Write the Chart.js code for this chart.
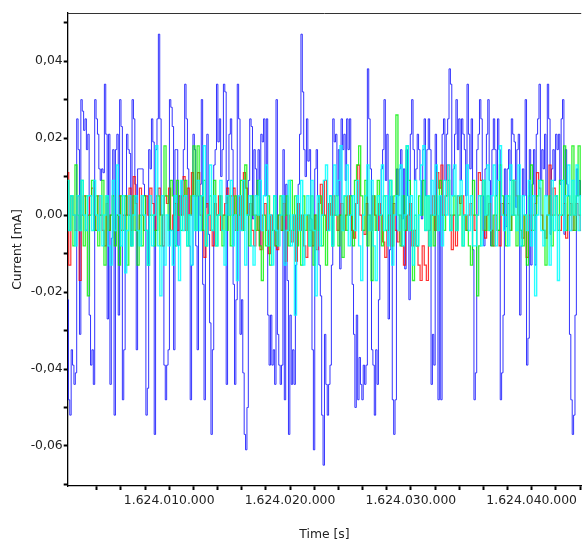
<!DOCTYPE html>
<html>
<head>
<meta charset="utf-8">
<script src="https://cdn.jsdelivr.net/npm/chart.js@4.4.1/dist/chart.umd.min.js"></script>
<style>
  html, body { margin: 0; padding: 0; background: #fff; overflow: hidden; }
  #wrap { width: 583px; height: 540px; overflow: hidden; }
</style>
</head>
<body>
<div id="wrap"><canvas id="chart" width="583" height="546"></canvas></div>
<script>
// time window of the recording (axis units as shown on the x axis)
const timeStart = 1624001600
const timeEnd = 1624044100

// channel currents [mA] left to right
const blueCurrent = [
  -0.022,-0.048,-0.052,-0.035,-0.039,-0.044,-0.041,0.025,0.017,-0.031,0.030,0.027,0.022,0.025,0.017,0.021,-0.026,-0.039,-0.035,-0.044,
  0.030,0.025,0.021,0.012,0.009,0.012,0.011,0.034,0.021,-0.027,0.021,-0.044,-0.006,0.017,-0.052,0.017,0.021,-0.026,0.030,0.023,
  -0.048,-0.035,0,0.021,0.017,0.016,-0.008,0.030,0.025,0.008,-0.035,0.012,0.012,0.012,0.012,0.008,0.005,-0.052,-0.045,0.017,
  0.012,0.025,0.019,-0.057,0.017,0.025,0.047,0.025,0,-0.008,-0.039,-0.048,-0.039,-0.035,0.030,0.028,0.023,-0.035,0.017,0.017,
  -0.008,0.005,0,0.009,0.017,0.034,0.025,0.012,-0.008,-0.048,-0.013,0.021,0.017,-0.008,-0.035,0.005,
  0.008,0.030,-0.018,-0.048,0.002,0.021,-0.005,-0.028,-0.057,-0.035,0.013,0.017,0.034,0.019,0.025,0.010,0.017,0.034,0.032,-0.044,
  0.009,0.021,0.025,0.017,-0.018,-0.044,-0.022,0.034,0.025,-0.031,-0.022,-0.041,-0.057,-0.061,-0.050,0.009,0.025,0.023,-0.001,0.017,
  0.012,0.005,0.017,-0.008,0.021,0.019,0.025,0.005,0.025,-0.026,-0.039,-0.026,-0.039,-0.035,-0.044,0.030,-0.031,-0.039,-0.044,-0.039,
  0.017,-0.048,0.008,-0.017,-0.057,-0.026,-0.044,-0.035,-0.044,-0.013,-0.001,0.008,0.021,0.047,0.032,0.017,0.010,0.025,0.014,0.017,
  -0.001,-0.035,-0.061,0.012,0.017,0.005,-0.013,-0.021,-0.052,-0.065,-0.031,-0.044,
  -0.052,-0.044,-0.039,-0.013,0.025,0.019,0.021,0.005,0.017,-0.014,0.025,0.017,0.021,0.009,0.025,0.017,0.025,0.005,-0.018,-0.031,
  -0.050,-0.026,-0.048,-0.037,-0.044,-0.048,-0.039,-0.044,-0.039,0.038,0.025,0.012,-0.035,-0.039,-0.052,-0.035,-0.044,-0.022,0,0.012,
  0.017,0.030,0.009,0.021,-0.027,-0.009,0.005,-0.048,-0.057,-0.048,0.012,0.005,0.012,0.017,-0.001,0.012,-0.014,0.017,0.005,-0.022,
  0.021,0.030,0.017,0.009,0.012,0.021,0.017,0.009,-0.001,0.017,0.025,0.005,0.017,0.025,0.017,-0.044,-0.031,-0.039,0.021,0,
  -0.048,0.005,-0.048,0.021,0.025,0.009,0.021,0.025,0.038,0.034,0.005,0.012,
  0.021,0.030,0.017,0.025,0.009,0.025,0.021,0.017,0.005,0.034,0.021,0.012,0.025,-0.009,-0.048,-0.041,0.017,0.021,0.030,0.025,
  0.005,-0.008,0.012,0.021,0.030,0.009,-0.008,0.017,0.025,0.017,0.005,0.025,0.017,-0.048,-0.041,-0.026,0.012,-0.003,0.012,0.017,
  0.009,0.025,0.021,0.019,0.002,0.017,0.021,-0.026,-0.008,0.012,0.005,0.030,-0.039,-0.032,0.017,-0.013,0.008,0.017,-0.013,0.021,
  0.025,0.034,0.009,0.017,0.012,0.021,0.005,0.034,0.025,-0.005,0.012,0.017,0.009,0.021,0.017,0.021,0.008,0.025,0.030,-0.005,
  0.017,0.008,0.005,-0.031,-0.048,-0.057,-0.052,-0.026,0.012,0.005,0.009,0.005
]
const redCurrent = [
  0.011,-0.013,0.005,0,-0.004,0.005,-0.017,0,0.005,-0.004,0,0.005,0.007,0,-0.004,0.005,0,-0.004,-0.008,0.003,
  -0.004,0,0.005,-0.004,0,0.005,-0.004,0,0.005,0,0.007,-0.004,0.010,0.003,-0.004,0.007,0,-0.004,0.005,0,
  0.007,0.003,-0.004,0.005,0.007,0,-0.008,0.005,0.003,0.007,-0.004,0,0.003,-0.004,0.005,0,0.010,-0.004,0.007,0,0.011,0.005,
  0.005,0.011,0,-0.004,-0.011,0.003,0,-0.004,-0.008,0.003,0,0.005,-0.004,0,0.003,0.007,0,0.005,0.007,-0.004,
  0,0.005,-0.004,0.011,0.007,0,0.003,-0.004,-0.008,0,-0.004,-0.009,0,0.003,-0.004,-0.010,0,-0.004,-0.008,-0.009,
  0,-0.004,0.003,-0.012,0,-0.004,-0.007,0,-0.012,0.003,-0.004,0,-0.008,-0.011,0,-0.004,-0.008,0,-0.009,0.003,0.008,0,
  0.009,-0.004,0.003,0,0.005,0,-0.004,0,0.003,-0.004,0,0.005,0,-0.004,-0.006,0.003,0.013,0,-0.004,-0.005,
  0.003,0,-0.004,0.005,0,-0.004,0.003,0,-0.007,-0.011,-0.004,0,-0.008,0.003,-0.004,-0.007,0,-0.008,-0.013,-0.004,
  0,0.003,-0.008,-0.004,-0.008,-0.013,-0.017,-0.008,-0.013,-0.017,-0.004,0,0.005,-0.004,0.011,0.007,0.013,0,0.005,0.013,0,-0.009,
  0,-0.008,0.005,0.003,0.005,0,-0.004,0,0.003,0,-0.004,0,0.011,0.009,-0.004,-0.006,0,0.003,-0.004,-0.008,
  0,-0.004,-0.008,0.003,0,0,0.003,-0.004,0,0.009,0.005,0,-0.004,-0.006,0,-0.011,0,-0.004,0,0.003,
  0.011,0.007,0,-0.004,-0.006,0,0.013,0,0.007,0.005,0,-0.004,0,0.003,-0.006,0,0.003,-0.004,0,0.003,0,-0.004
]
const greenCurrent = [
  0.009,-0.004,0.005,-0.008,0.013,0,-0.004,0.009,-0.008,0.005,-0.021,0,0.009,-0.004,0.005,-0.008,0,0.009,-0.013,0.005,
  -0.004,0,0.005,-0.008,0,-0.013,0.005,-0.004,0.005,-0.013,0,-0.008,0.005,-0.004,-0.013,0,-0.008,0.005,-0.004,-0.013,
  0,0,-0.008,-0.004,0.005,-0.008,0,0.018,0.005,-0.004,0.009,0.005,-0.008,0.009,0,-0.004,0.005,0.009,-0.008,0,0.005,0.018,-0.004,
  0.018,0.005,-0.004,0.009,-0.008,0,0.005,-0.004,0.009,-0.008,0,0.005,-0.008,0,-0.004,0.005,-0.008,0,0.005,-0.004,
  0,0.009,-0.004,0.013,0,-0.008,0.005,0,-0.004,0.009,-0.008,-0.017,0,-0.008,0.005,-0.013,-0.004,0.005,-0.008,0,
  0.005,-0.004,0,0.005,-0.008,0.009,-0.004,0.005,-0.008,0,-0.013,0.005,-0.004,0,-0.008,0.005,-0.013,0,-0.004,0.005,-0.008,0,
  -0.013,-0.004,0.005,-0.008,0,0.005,-0.008,0,-0.011,0.005,-0.004,0,0.005,-0.008,0.009,0.013,0.018,0.005,-0.004,0.009,
  -0.008,0,-0.017,0.005,-0.004,0.009,0,-0.008,0.005,-0.004,0,0.009,-0.008,0.005,0.026,0,-0.008,0.005,-0.004,0.018,
  0.009,-0.004,-0.017,0,-0.008,0.005,0,0.009,-0.004,0.005,-0.008,0,-0.008,0.005,-0.004,0.009,0,-0.004,0.005,0.009,-0.004,0,
  0.005,-0.004,0,0.005,-0.008,0,-0.004,-0.008,-0.013,0.009,0,-0.021,-0.008,0.005,0.009,-0.004,0.005,-0.004,-0.008,0,
  0.005,-0.004,0.013,0.005,0,-0.008,0.005,-0.004,0.009,0,-0.008,0.005,-0.004,-0.008,0,-0.013,0.005,0.013,-0.004,0,
  0.005,0.009,0.009,-0.004,-0.013,0,0.005,-0.008,0,0.005,-0.004,0.009,0,0.018,-0.004,0.005,0,0.018,-0.004,0.005,0.018,0
]
const cyanCurrent = [
  0.009,-0.004,0.005,0,-0.008,0.005,-0.004,0.009,0,-0.004,0.005,0.005,-0.004,0.009,0,-0.004,0.005,-0.008,0,0.005,
  -0.008,-0.013,0.009,-0.004,0.013,0,-0.008,0.005,-0.015,-0.004,0.005,-0.008,0,0.005,-0.004,-0.008,0.005,0,-0.004,-0.013,
  0.005,-0.008,0,0.018,-0.008,-0.021,0.005,-0.013,0,-0.008,-0.004,-0.013,0.005,-0.008,-0.017,0.009,-0.004,0.005,-0.008,0,-0.013,0.005,-0.004,
  0.009,-0.004,0.005,0.018,-0.008,0,0.013,-0.004,0.005,-0.008,0,0.009,-0.004,-0.013,0.005,0,0.009,-0.008,0,-0.017,
  0.005,-0.004,0.009,-0.013,0,0.005,-0.008,-0.013,0.005,0,0.009,-0.004,0.005,0.013,-0.008,0,-0.013,0.005,-0.004,-0.008,
  0,0.005,-0.013,-0.004,0.009,-0.008,0,-0.026,0.005,-0.004,0.009,-0.013,0,0.005,-0.008,0.009,-0.004,-0.021,0.005,-0.008,0,0.009,
  0.013,-0.004,0.005,-0.008,0.013,0,0.009,0.018,-0.004,0.005,0.013,-0.008,0,0.005,-0.004,0.009,-0.008,-0.017,0,0.005,
  0.013,-0.004,0.009,-0.008,-0.017,0.005,0,0.013,-0.004,0.005,-0.008,0.009,-0.013,0,0.005,-0.004,0.013,-0.008,0,0.018,
  -0.004,0.005,-0.013,0.009,-0.008,0,0.013,0.018,-0.004,0.005,-0.008,0.009,0,0.013,-0.004,0.005,-0.008,0.009,0,0.013,-0.004,0.005,
  0.013,-0.004,0.005,0.009,-0.008,0,0.013,-0.004,0.005,-0.008,-0.008,0,0.005,-0.008,0.009,0,0.013,-0.004,0.005,0.013,
  -0.008,0.009,0.018,0,-0.004,0.005,-0.008,0.013,0,0.009,-0.004,0.013,-0.008,0.005,0,-0.004,0.009,-0.008,0.005,-0.021,
  0,0.009,-0.004,-0.008,0.005,0,-0.013,0.009,-0.004,0.005,-0.017,0,0.009,-0.004,0.005,0.013,-0.004,0.009,0,0.013,-0.004,0.005
]

// axis ticks
const xTickValues = [1624004000, 1624006000, 1624008000, 1624010000, 1624012000, 1624014000, 1624016000,
  1624018000, 1624020000, 1624022000, 1624024000, 1624026000, 1624028000, 1624030000, 1624032000,
  1624034000, 1624036000, 1624038000, 1624040000, 1624042000, 1624044000]
const xTickLabels = ['', '', '', '1.624.010.000', '', '', '', '', '1.624.020.000', '', '', '', '',
  '1.624.030.000', '', '', '', '', '1.624.040.000', '', '']
const yTickValues = [-0.07, -0.06, -0.05, -0.04, -0.03, -0.02, -0.01, 0, 0.01, 0.02, 0.03, 0.04, 0.05]
const yTickLabels = ['', '-0,06', '', '-0,04', '', '-0,02', '', '0,00', '', '0,02', '', '0,04', '']
const yMin = -0.0704
const yMax = 0.0525

// equally spaced samples over the time window
function samples(values) {
  const dt = (timeEnd - timeStart) / (values.length - 1)
  return values.map((v, i) => ({ x: timeStart + i * dt, y: v }))
}

function series(label, values, color, width) {
  return {
    label,
    data: samples(values),
    borderColor: color,
    borderWidth: width,
    stepped: 'middle',
    pointRadius: 0,
    fill: false
  }
}

const font = { family: 'DejaVu Sans', size: 12.4 }
const textColor = '#222'

const topBorder = {
  id: 'topBorder',
  afterDraw(chart) {
    const { ctx, chartArea: a } = chart
    ctx.save()
    ctx.strokeStyle = '#333'
    ctx.lineWidth = 1
    ctx.beginPath()
    ctx.moveTo(a.left, Math.round(a.top) + 0.5)
    ctx.lineTo(a.right, Math.round(a.top) + 0.5)
    ctx.stroke()
    ctx.restore()
  }
}

new Chart(document.getElementById('chart'), {
  type: 'line',
  data: {
    datasets: [
      series('Channel 4', cyanCurrent, 'rgba(0, 255, 255, 0.85)', 1.4),
      series('Channel 3', greenCurrent, 'rgba(0, 240, 0, 0.8)', 1.3),
      series('Channel 2', redCurrent, 'rgba(255, 0, 0, 0.8)', 1.2),
      series('Channel 1', blueCurrent, 'rgba(0, 0, 255, 0.8)', 1)
    ]
  },
  options: {
    responsive: false,
    animation: false,
    devicePixelRatio: 1,
    layout: { padding: { top: 13, right: 0, left: 0, bottom: 0 } },
    plugins: {
      legend: { display: false },
      tooltip: { enabled: false }
    },
    scales: {
      x: {
        type: 'linear',
        min: timeStart,
        max: timeEnd,
        afterBuildTicks: (axis) => { axis.ticks = xTickValues.map(v => ({ value: v })) },
        afterFit: (axis) => { axis.height = 60 },
        ticks: {
          autoSkip: false,
          maxRotation: 0,
          minRotation: 0,
          padding: 3,
          color: textColor,
          font,
          callback: (v, i) => xTickLabels[i]
        },
        grid: { drawOnChartArea: false, drawTicks: true, tickLength: 4, tickWidth: 2, tickColor: '#000', color: '#000' },
        border: { display: true, color: '#000', width: 1.3 },
        title: { display: true, text: 'Time [s]', color: textColor, font, padding: { top: 0, bottom: 4 } }
      },
      y: {
        type: 'linear',
        min: yMin,
        max: yMax,
        afterBuildTicks: (axis) => { axis.ticks = yTickValues.map(v => ({ value: v })) },
        afterFit: (axis) => { axis.width = 67.7 },
        ticks: {
          autoSkip: false,
          padding: 1,
          color: textColor,
          font,
          callback: (v, i) => yTickLabels[i]
        },
        grid: { drawOnChartArea: false, drawTicks: true, tickLength: 4, tickWidth: 2, tickColor: '#000', color: '#000' },
        border: { display: true, color: '#000', width: 1.3 },
        title: { display: true, text: 'Current [mA]', color: textColor, font, padding: { top: 10, bottom: 0 } }
      }
    }
  },
  plugins: [topBorder]
})
</script>
</body>
</html>
